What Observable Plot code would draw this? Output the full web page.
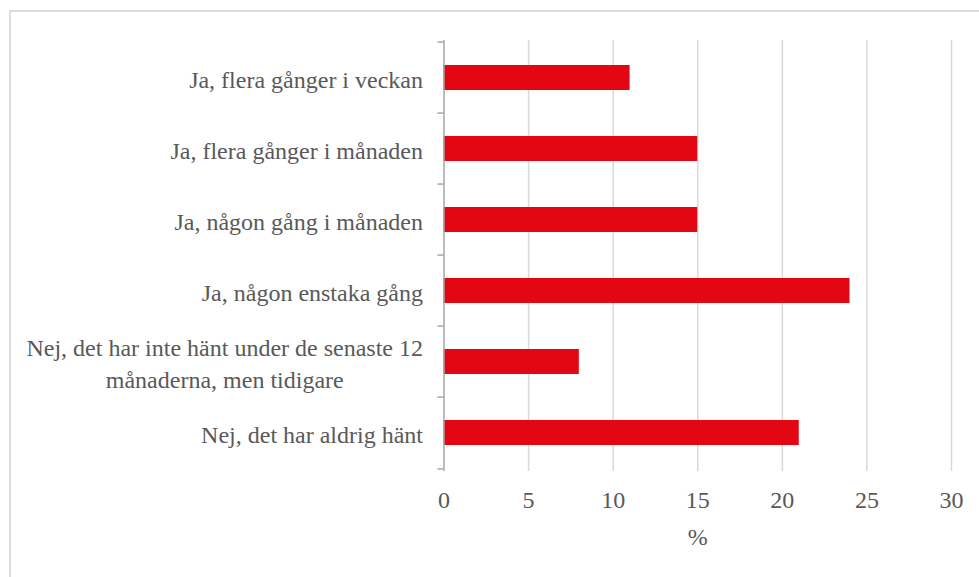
<!DOCTYPE html>
<html><head><meta charset="utf-8">
<script src="https://cdn.jsdelivr.net/npm/d3@7"></script>
<script src="https://cdn.jsdelivr.net/npm/@observablehq/plot@0.6"></script>
<style>
body{margin:0;background:#fff}
#wrap{position:relative;width:979px;height:577px;overflow:hidden;background:#fff}
#frame{position:absolute;left:9px;top:10px;width:1000px;height:600px;border-top:2px solid #dcdcdc;border-left:2px solid #dcdcdc;pointer-events:none}
#chart svg, #chart svg text{font-family:"Liberation Serif","Times New Roman",serif !important}
</style>
</head><body>
<div id="wrap"><div id="chart"></div><div id="frame"></div></div>
<script>
const categories = [
  "Ja, flera gånger i veckan",
  "Ja, flera gånger i månaden",
  "Ja, någon gång i månaden",
  "Ja, någon enstaka gång",
  "Nej, det har inte hänt under de senaste 12\nmånaderna, men tidigare",
  "Nej, det har aldrig hänt"
];
const values = [11, 15, 15, 24, 8, 21];
const xTicks = [0, 5, 10, 15, 20, 25, 30];
const gridValues = [5, 10, 15, 20, 25, 30];
const xLabel = "%";

const data = categories.map((c, i) => ({category: c, value: values[i]}));
const W = 979, H = 577, mT = 40, mB = 106, mL = 443.5, mR = 28;
const step = (H - mT - mB) / categories.length;
const axisGray = "#a6a6a6";
const font = "Liberation Serif";

const chart = Plot.plot({
  width: W, height: H,
  marginTop: mT, marginBottom: mB, marginLeft: mL, marginRight: mR,
  style: {fontFamily: font, fontSize: "24px", color: "#595959", background: "transparent"},
  x: {domain: [0, 30], label: null},
  y: {domain: categories, paddingInner: 0.645, paddingOuter: 0.3225, label: null},
  marks: [
    Plot.ruleX(gridValues, {stroke: "#d9d9d9", strokeWidth: 1.5}),
    Plot.barX(data, {x: "value", y: "category", fill: "#e30613"}),
    Plot.ruleX([0], {stroke: axisGray, strokeWidth: 1.5}),
    Plot.axisY(categories, {tickSize: 0, tickPadding: 21, lineHeight: 1.333, fontSize: 24, fontFamily: font, label: null, fill: "#595959"}),
    Plot.axisY(categories, {tickSize: 6, tickPadding: 0, tickFormat: () => "", dy: -step / 2, stroke: axisGray, strokeWidth: 1.5, label: null}),
    Plot.axisY([categories[categories.length - 1]], {tickSize: 6, tickPadding: 0, tickFormat: () => "", dy: step / 2, stroke: axisGray, strokeWidth: 1.5, label: null}),
    Plot.axisX(xTicks, {tickSize: 0, tickPadding: 19, fontSize: 24, fontFamily: font, fill: "#595959", label: xLabel, labelAnchor: "center", labelArrow: "none", labelOffset: 73})
  ]
});
document.getElementById("chart").appendChild(chart);

// center-align lines of multi-line category labels (as in the reference)
chart.querySelectorAll("text").forEach(t => {
  const spans = t.querySelectorAll("tspan");
  if (spans.length > 1) {
    const w = t.getBBox().width;
    t.setAttribute("text-anchor", "middle");
    spans.forEach(s => s.setAttribute("x", -w / 2));
  }
});
</script>
</body></html>
